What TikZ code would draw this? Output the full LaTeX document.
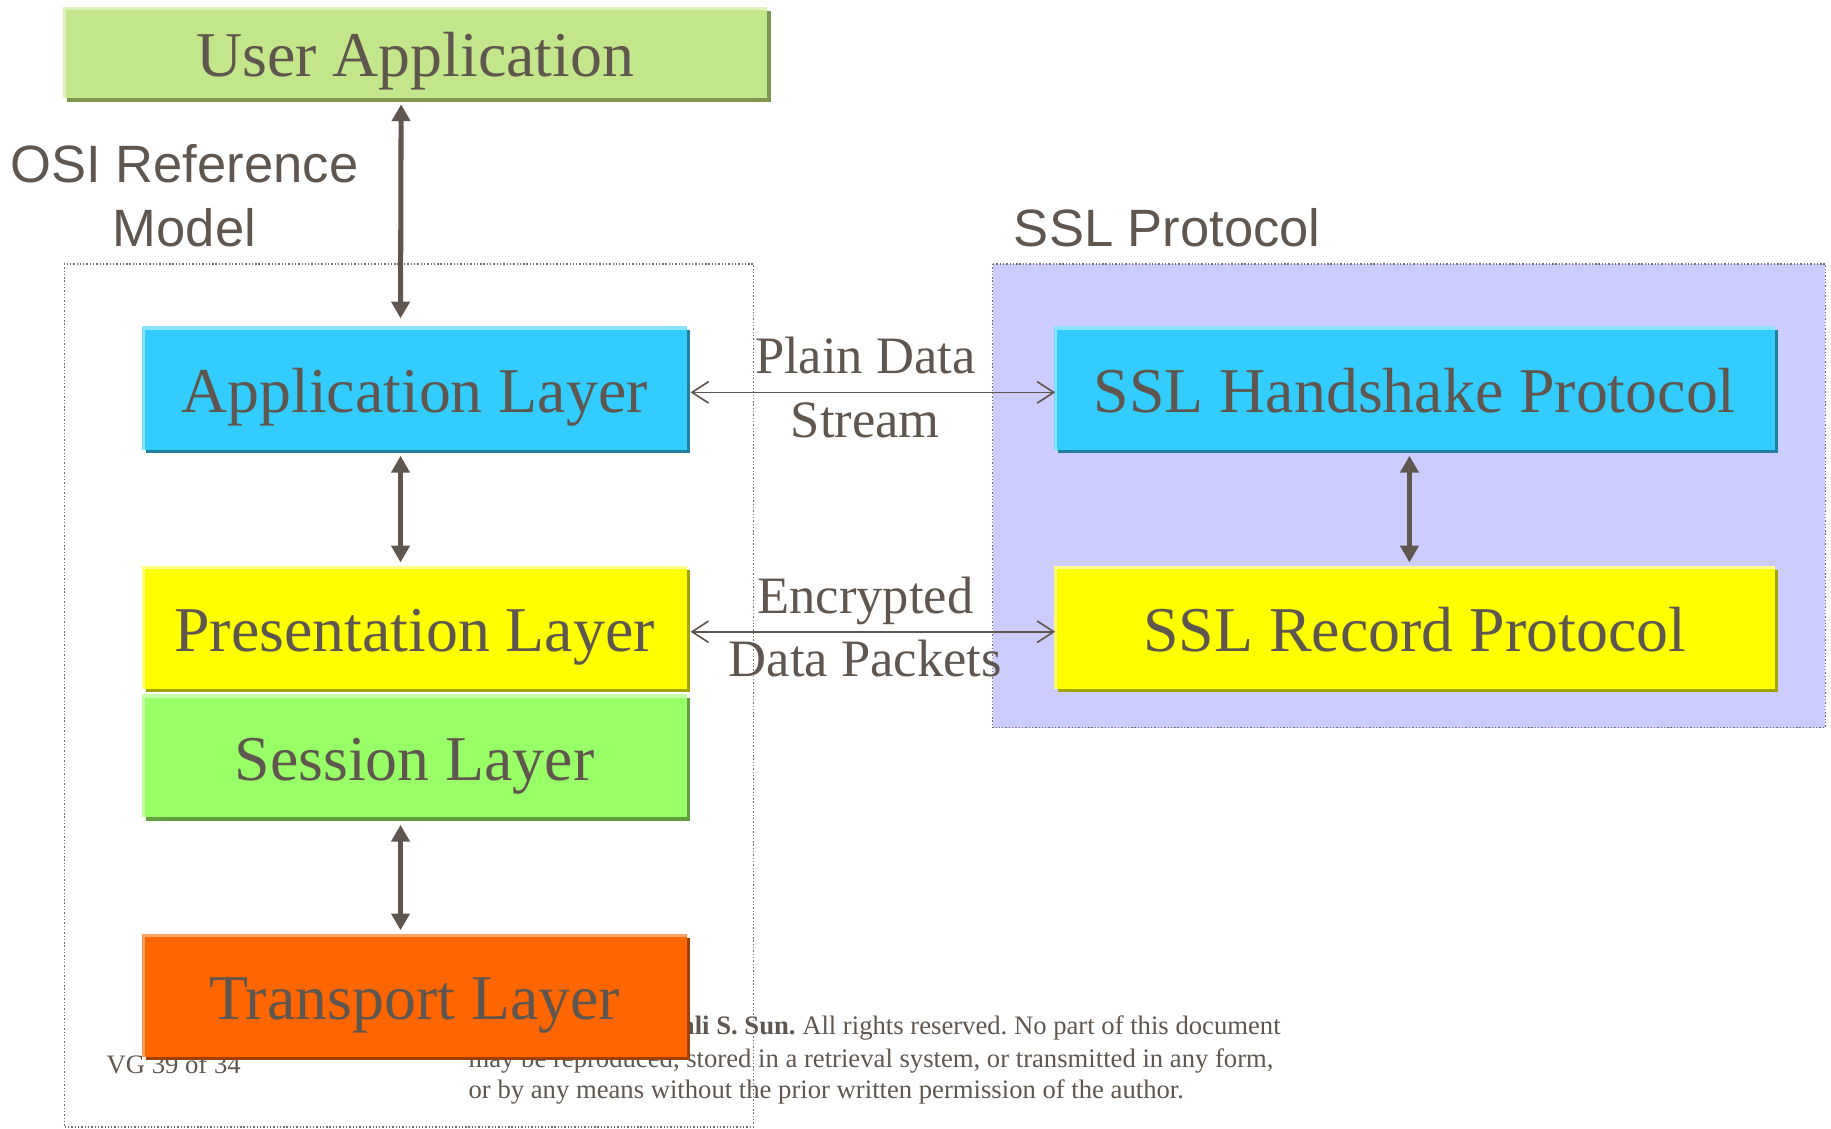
\documentclass[tikz,border=0pt]{standalone}
\usepackage{fontspec}
\setmainfont{Liberation Serif}
\newfontfamily\sansf{Liberation Sans}
\usetikzlibrary{arrows.meta,shadows}
\frenchspacing

\definecolor{ink}{HTML}{5F574F}
\definecolor{uaF}{HTML}{C4E68A}\definecolor{uaS}{HTML}{7F9650}\definecolor{uaL}{HTML}{DDF2BA}
\definecolor{cyF}{HTML}{33CCFF}\definecolor{cyS}{HTML}{2080A0}\definecolor{cyL}{HTML}{8AE3FF}
\definecolor{yeF}{HTML}{FFFF00}\definecolor{yeS}{HTML}{A3A300}\definecolor{yeL}{HTML}{FFFF8A}
\definecolor{grF}{HTML}{99FF66}\definecolor{grS}{HTML}{60A040}\definecolor{grL}{HTML}{C6FFA8}
\definecolor{orF}{HTML}{FF6600}\definecolor{orS}{HTML}{A04000}\definecolor{orL}{HTML}{FFA366}
\definecolor{sslbg}{HTML}{CCCCFF}

\newcommand\layerfont{\fontsize{32.8pt}{38pt}\selectfont}
\newcommand\lblfont{\fontsize{27pt}{33pt}\selectfont}
\newcommand\notefont{\fontsize{13.7pt}{16.5pt}\selectfont}

\tikzset{
  layer/.style n args={3}{fill=#1, draw=none,
    drop shadow={shadow xshift=1.8pt, shadow yshift=-1.8pt, fill=#2, opacity=1},
    path picture={\draw[#3, line width=2.8pt]
      (path picture bounding box.south west) -- (path picture bounding box.north west)
      -- (path picture bounding box.north east);},
    text=ink, font=\layerfont, text height=24.7pt, text depth=0pt, inner sep=0pt},
  osilayer/.style={minimum width=279.6pt, minimum height=63pt},
  ssllayer/.style={minimum width=370.2pt, minimum height=63pt},
  vlink/.style={draw=ink, line width=2.6pt, {Triangle[length=8.6pt,width=9.2pt]}-{Triangle[length=8.6pt,width=9.2pt]}},
  hlink/.style={draw=ink, line width=0.85pt, {Straight Barb[length=8.5pt,width=11pt]}-{Straight Barb[length=8.5pt,width=11pt]}},
  lbl/.style={text=ink, font=\lblfont, inner sep=0pt},
  sanslbl/.style={text=ink, font=\sansf\lblfont, inner sep=0pt},
  note/.style={text=ink, font=\notefont, inner sep=0pt},
  frame/.style={draw=ink!85, line width=0.7pt, densely dotted}
}

\begin{document}
\begin{tikzpicture}[x=0.6pt,y=-0.6pt]
\useasboundingbox (0,0) rectangle (1568,966);

% SSL protocol area
\filldraw[frame, fill=sslbg] (850,226) rectangle (1563,623);

% copyright footer
\node[note, anchor=base west] (vg) at (91,919) {VG 39 of 34};
\node[note, anchor=base east] (cp1) at (1097,886) {\textbf{ali S. Sun.} All rights reserved. No part of this document};
\node[note, anchor=base west] (cp2) at (401,914) {may be reproduced, stored in a retrieval system, or transmitted in any form,};
\node[note, anchor=base west] (cp3) at (401,941) {or by any means without the prior written permission of the author.};

% OSI reference model frame
\draw[frame] (55,226) rectangle (645,965);

% titles
\node[sanslbl, anchor=base] (osi1) at (158,156) {OSI Reference};
\node[sanslbl, anchor=base] (osi2) at (158,211) {Model};
\node[sanslbl, anchor=base west] (sslt) at (868,211) {SSL Protocol};

% boxes
\node[layer={uaF}{uaS}{uaL}, minimum width=361.8pt, minimum height=46.8pt] (ua) at (355.5,45) {User Application};
\node[layer={cyF}{cyS}{cyL}, osilayer] (app) at (355,332.5) {Application Layer};
\node[layer={yeF}{yeS}{yeL}, osilayer] (pres) at (355,537.5) {Presentation Layer};
\node[layer={grF}{grS}{grL}, osilayer] (sess) at (355,647.5) {Session Layer};
\node[layer={orF}{orS}{orL}, osilayer] (trans) at (355,852.5) {Transport Layer};
\node[layer={cyF}{cyS}{cyL}, ssllayer] (hs) at (1211.5,332.5) {SSL Handshake Protocol};
\node[layer={yeF}{yeS}{yeL}, ssllayer] (rec) at (1211.5,537.5) {SSL Record Protocol};

% vertical links
\draw[vlink] ([shift={(-12,5)}]ua.south) -- ([shift={(-12,-7)}]app.north);
\draw[vlink] ([shift={(-12,5)}]app.south) -- ([shift={(-12,-3)}]pres.north);
\draw[vlink] ([shift={(-12,6)}]sess.south) -- ([shift={(-12,-3)}]trans.north);
\draw[vlink] ([shift={(-4.5,5)}]hs.south) -- ([shift={(-4.5,-3)}]rec.north);

% horizontal links
\draw[hlink] ([shift={(3,3.5)}]app.east) -- ([shift={(1,3.5)}]hs.west);
\draw[hlink] ([shift={(3,3.5)}]pres.east) -- ([shift={(1,3.5)}]rec.west);

% link labels
\node[lbl, anchor=base] (pd1) at (741,319.5) {Plain Data};
\node[lbl, anchor=base] (pd2) at (741,374.5) {Stream};
\node[lbl, anchor=base] (ed1) at (741,525) {Encrypted};
\node[lbl, anchor=base] (ed2) at (741,579.5) {Data Packets};
\end{tikzpicture}
\end{document}
